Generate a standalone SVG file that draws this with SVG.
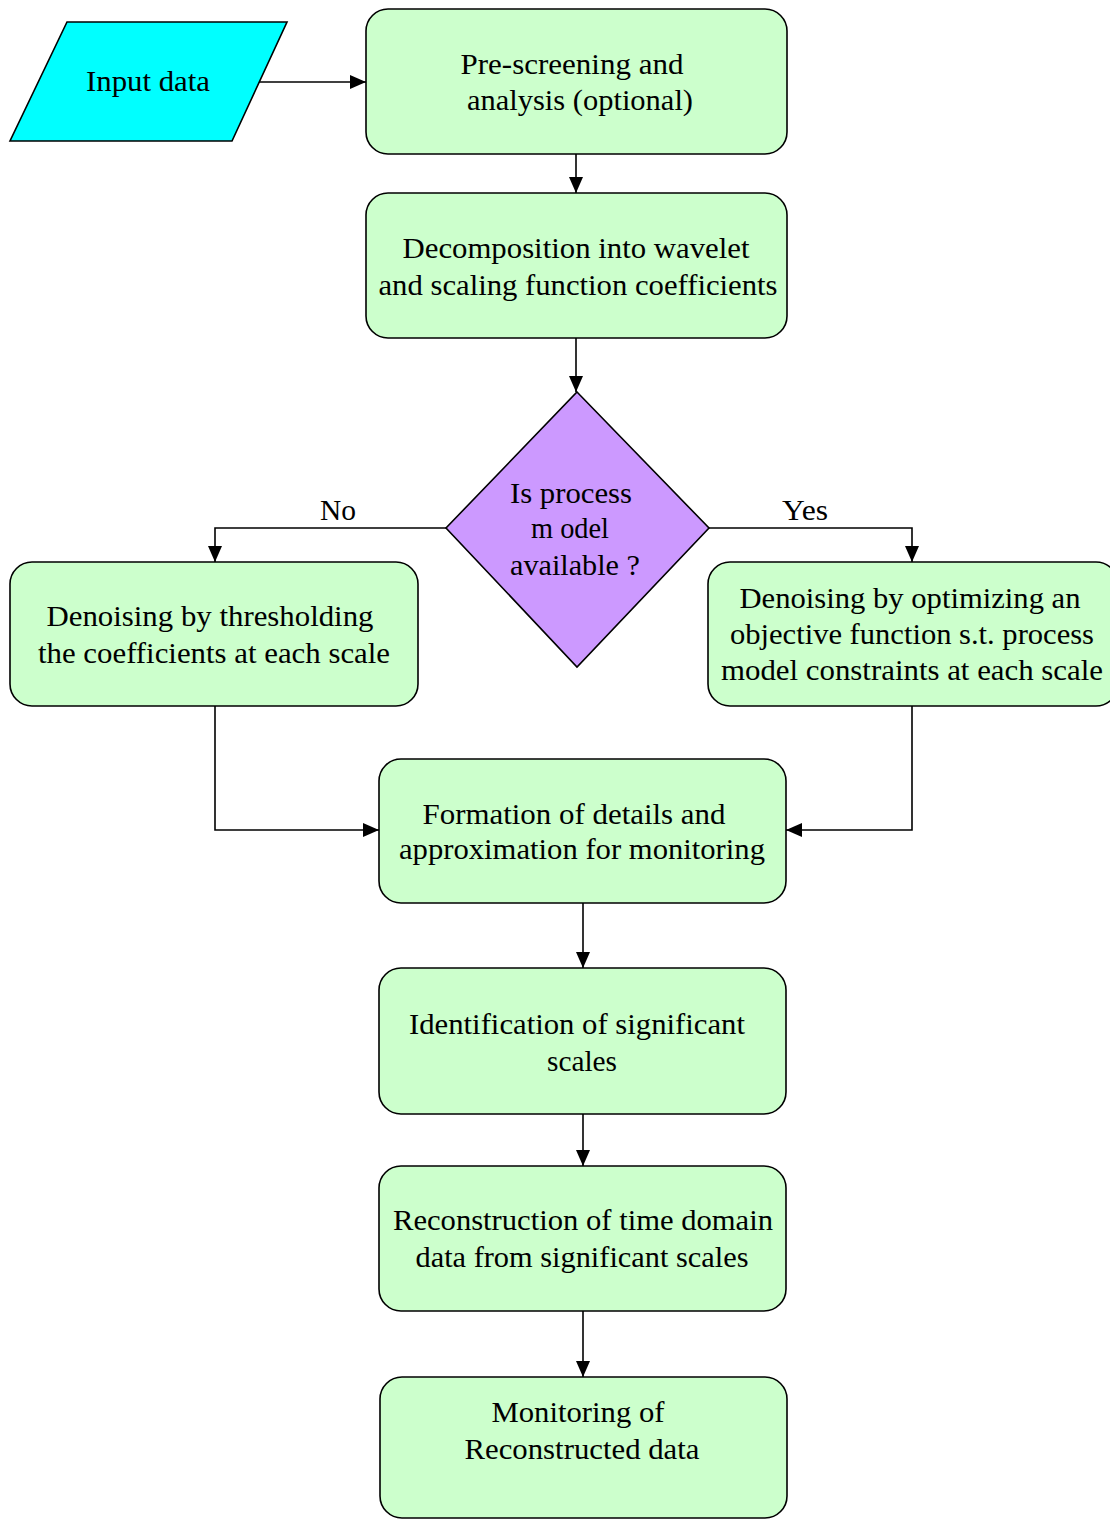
<svg xmlns="http://www.w3.org/2000/svg" width="1110" height="1519" viewBox="0 0 1110 1519">
<style>
.box{fill:#CCFFCC;stroke:#000;stroke-width:1.6}
.io{fill:#00FFFF;stroke:#000;stroke-width:1.6}
.dec{fill:#CC99FF;stroke:#000;stroke-width:1.6}
.t{font-family:'Liberation Serif','DejaVu Serif','Times New Roman',serif;font-size:30px;fill:#000;text-anchor:middle}
.c{fill:none;stroke:#000;stroke-width:1.6;marker-end:url(#ah)}
</style>
<defs>
<marker id="ah" markerUnits="userSpaceOnUse" markerWidth="16" markerHeight="14" refX="16" refY="7" orient="auto">
<path d="M0,0 L16,7 L0,14 z" fill="#000"/>
</marker>
</defs>
<rect width="1110" height="1519" fill="#fff"/>
<g id="connectors">
<path class="c" d="M259,82 L366,82"/>
<path class="c" d="M576,154 L576,193"/>
<path class="c" d="M576,338 L576,392"/>
<path class="c" d="M446,528 L215,528 L215,562"/>
<path class="c" d="M709,528 L912,528 L912,562"/>
<path class="c" d="M215,706 L215,830 L379,830"/>
<path class="c" d="M912,706 L912,830 L786,830"/>
<path class="c" d="M583,903 L583,968"/>
<path class="c" d="M583,1114 L583,1166"/>
<path class="c" d="M583,1311 L583,1377"/>
<text class="t" x="338" y="520" textLength="36" lengthAdjust="spacingAndGlyphs" font-family="Liberation Serif, DejaVu Serif, serif">No</text>
<text class="t" x="805" y="520" textLength="46" lengthAdjust="spacingAndGlyphs">Yes</text>
</g>
<g id="input">
<polygon class="io" points="67,22 287,22 232,141 10,141"/>
<text class="t" x="148" y="91" textLength="124" lengthAdjust="spacingAndGlyphs">Input data</text>
</g>
<g id="prescreen">
<rect class="box" x="366" y="9" width="421" height="145" rx="22" ry="22"/>
<text class="t" x="572" y="74" textLength="223" lengthAdjust="spacingAndGlyphs">Pre-screening and</text>
<text class="t" x="580" y="110" textLength="226" lengthAdjust="spacingAndGlyphs">analysis (optional)</text>
</g>
<g id="decomp">
<rect class="box" x="366" y="193" width="421" height="145" rx="22" ry="22"/>
<text class="t" x="576" y="258" textLength="347" lengthAdjust="spacingAndGlyphs">Decomposition into wavelet</text>
<text class="t" x="578" y="295" textLength="399" lengthAdjust="spacingAndGlyphs">and scaling function coefficients</text>
</g>
<g id="decision">
<polygon class="dec" points="577,392 709,528 577,667 446,528"/>
<text class="t" x="571" y="503" textLength="122" lengthAdjust="spacingAndGlyphs">Is process</text>
<text class="t" x="570" y="538" textLength="78" lengthAdjust="spacingAndGlyphs">m odel</text>
<text class="t" x="575" y="575" textLength="130" lengthAdjust="spacingAndGlyphs">available ?</text>
</g>
<g id="threshold">
<rect class="box" x="10" y="562" width="408" height="144" rx="22" ry="22"/>
<text class="t" x="210" y="626" textLength="327" lengthAdjust="spacingAndGlyphs">Denoising by thresholding</text>
<text class="t" x="214" y="663" textLength="352" lengthAdjust="spacingAndGlyphs">the coefficients at each scale</text>
</g>
<g id="optimize">
<rect class="box" x="708" y="562" width="410" height="144" rx="22" ry="22"/>
<text class="t" x="910" y="608" textLength="341" lengthAdjust="spacingAndGlyphs">Denoising by optimizing an</text>
<text class="t" x="912" y="644" textLength="364" lengthAdjust="spacingAndGlyphs">objective function s.t. process</text>
<text class="t" x="912" y="680" textLength="382" lengthAdjust="spacingAndGlyphs">model constraints at each scale</text>
</g>
<g id="formation">
<rect class="box" x="379" y="759" width="407" height="144" rx="22" ry="22"/>
<text class="t" x="574" y="824" textLength="303" lengthAdjust="spacingAndGlyphs">Formation of details and</text>
<text class="t" x="582" y="859" textLength="366" lengthAdjust="spacingAndGlyphs">approximation for monitoring</text>
</g>
<g id="identification">
<rect class="box" x="379" y="968" width="407" height="146" rx="22" ry="22"/>
<text class="t" x="577" y="1034" textLength="336" lengthAdjust="spacingAndGlyphs">Identification of significant</text>
<text class="t" x="582" y="1071" textLength="70" lengthAdjust="spacingAndGlyphs">scales</text>
</g>
<g id="reconstruction">
<rect class="box" x="379" y="1166" width="407" height="145" rx="22" ry="22"/>
<text class="t" x="583" y="1230" textLength="380" lengthAdjust="spacingAndGlyphs">Reconstruction of time domain</text>
<text class="t" x="582" y="1267" textLength="333" lengthAdjust="spacingAndGlyphs">data from significant scales</text>
</g>
<g id="monitoring">
<rect class="box" x="380" y="1377" width="407" height="141" rx="22" ry="22"/>
<text class="t" x="578" y="1422" textLength="173" lengthAdjust="spacingAndGlyphs">Monitoring of</text>
<text class="t" x="582" y="1459" textLength="235" lengthAdjust="spacingAndGlyphs">Reconstructed data</text>
</g>
</svg>
